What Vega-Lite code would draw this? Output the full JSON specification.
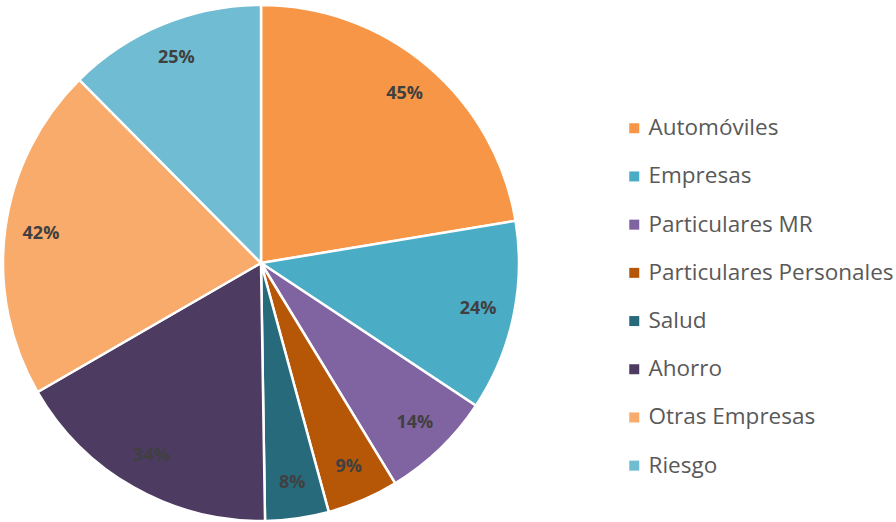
{
  "$schema": "https://vega.github.io/schema/vega-lite/v6.json",
  "width": 522,
  "height": 518,
  "autosize": "none",
  "padding": {"top": 4, "left": 0, "right": 374, "bottom": 0},
  "background": "white",
  "config": {"view": {"stroke": null}},
  "data": {
    "values": [
      {"category": "Automóviles", "value": 45, "order": 1},
      {"category": "Empresas", "value": 24, "order": 2},
      {"category": "Particulares MR", "value": 14, "order": 3},
      {"category": "Particulares Personales", "value": 9, "order": 4},
      {"category": "Salud", "value": 8, "order": 5},
      {"category": "Ahorro", "value": 34, "order": 6},
      {"category": "Otras Empresas", "value": 42, "order": 7},
      {"category": "Riesgo", "value": 25, "order": 8}
    ]
  },
  "transform": [{"calculate": "datum.value + '%'", "as": "label"}],
  "encoding": {
    "theta": {"field": "value", "type": "quantitative", "stack": true},
    "order": {"field": "order", "type": "quantitative"}
  },
  "layer": [
    {
      "mark": {"type": "arc", "outerRadius": 258, "stroke": "white", "strokeWidth": 2.5},
      "encoding": {
        "color": {
          "field": "category",
          "type": "nominal",
          "sort": ["Automóviles", "Empresas", "Particulares MR", "Particulares Personales", "Salud", "Ahorro", "Otras Empresas", "Riesgo"],
          "scale": {
            "domain": ["Automóviles", "Empresas", "Particulares MR", "Particulares Personales", "Salud", "Ahorro", "Otras Empresas", "Riesgo"],
            "range": ["#F79646", "#4BACC6", "#8064A2", "#B65708", "#276A7C", "#4D3B62", "#F9AB6B", "#70BCD2"]
          },
          "legend": {
            "title": null,
            "orient": "none",
            "legendX": 623,
            "legendY": 113,
            "symbolType": "square",
            "symbolSize": 100,
            "symbolStrokeWidth": 0,
            "labelFont": "Open Sans",
            "labelFontSize": 22.5,
            "labelColor": "#595959",
            "labelOffset": 3,
            "rowPadding": 25.2,
            "labelLimit": 400
          }
        }
      }
    },
    {
      "mark": {"type": "text", "radius": 222, "font": "Open Sans", "fontWeight": "bold", "fontSize": 18, "color": "#404040"},
      "encoding": {"text": {"field": "label", "type": "nominal"}}
    }
  ]
}
